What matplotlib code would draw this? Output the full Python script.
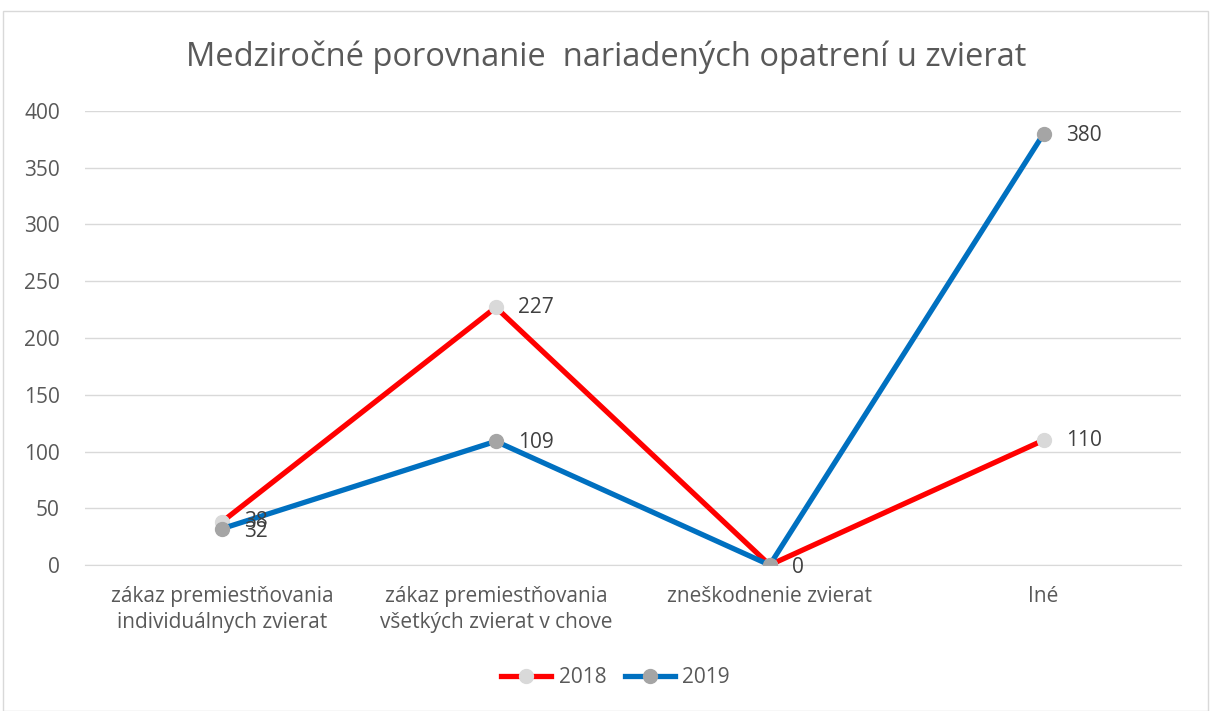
import matplotlib
matplotlib.use("Agg")
import matplotlib.pyplot as plt
from matplotlib.patches import Rectangle

plt.rcParams['font.family'] = ['Open Sans', 'DejaVu Sans']

categories = ['zákaz premiestňovania\nindividuálnych zvierat',
              'zákaz premiestňovania\nvšetkých zvierat v chove',
              'zneškodnenie zvierat',
              'Iné']
values_2018 = [38, 227, 0, 110]
values_2019 = [32, 109, 0, 380]
yticks = [0, 50, 100, 150, 200, 250, 300, 350, 400]

fig = plt.figure(figsize=(12.12, 7.11), dpi=100)
ax = fig.add_axes([0.0701, 0.2053, 0.904, 0.6386])

x = list(range(len(categories)))
ax.plot(x, values_2018, color='#ff0000', lw=3.8, marker='o', ms=10,
        mfc='#d9d9d9', mec='#d9d9d9', label='2018', zorder=3)
ax.plot(x, values_2019, color='#0070c0', lw=3.8, marker='o', ms=10,
        mfc='#a5a5a5', mec='#a5a5a5', label='2019', zorder=4)

for xi, v in zip(x, values_2018):
    if v == 0:
        continue
    ax.annotate(str(v), (xi, v), xytext=(16, 0), textcoords='offset points',
                va='center', ha='left', fontsize=15, color='#404040', zorder=5)
for xi, v in zip(x, values_2019):
    ax.annotate(str(v), (xi, v), xytext=(16, -2 if v < 50 else -1),
                textcoords='offset points', va='center', ha='left',
                fontsize=15, color='#404040', zorder=5)

ax.set_xlim(-0.5, 3.5)
ax.set_ylim(0, 400)
ax.set_yticks(yticks)
ax.set_xticks(x)
ax.set_xticklabels(categories, linespacing=1.35)
ax.yaxis.grid(True, color='#d9d9d9', lw=1)
ax.set_axisbelow(True)
for s in ['top', 'right', 'left']:
    ax.spines[s].set_visible(False)
ax.spines['bottom'].set_color('#d9d9d9')
ax.tick_params(axis='both', length=0, labelsize=15, colors='#595959')
ax.tick_params(axis='x', pad=15)
ax.tick_params(axis='y', pad=18)

fig.text(0.5, 0.92, 'Medziročné porovnanie  nariadených opatrení u zvierat',
         ha='center', va='center', fontsize=23.5, color='#595959')

fig.legend(loc='center', bbox_to_anchor=(0.508, 0.047), ncol=2, frameon=False,
           fontsize=15, labelcolor='#595959', handlelength=2.4,
           columnspacing=0.9, handletextpad=0.35)

fig.patches.append(Rectangle((3 / 1212, 0), 1205 / 1212, 1 - 11 / 711,
                             transform=fig.transFigure, fill=False,
                             ec='#d9d9d9', lw=1))

fig.savefig('out.png', dpi=100)
